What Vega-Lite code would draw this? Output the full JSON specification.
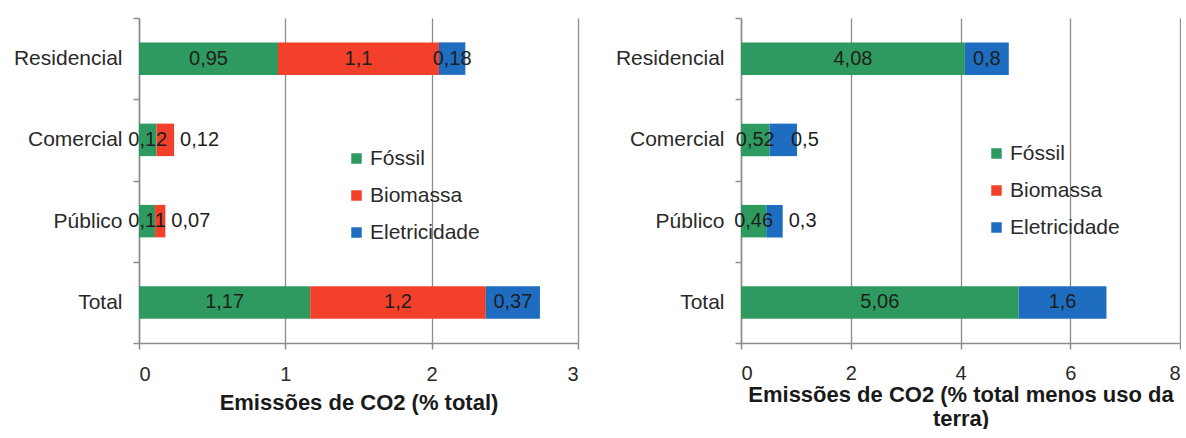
{
  "$schema": "https://vega.github.io/schema/vega-lite/v6.json",
  "padding": {"left": 13, "top": 7, "right": 0, "bottom": 0},
  "background": "white",
  "bounds": "flush",
  "spacing": 163,
  "config": {
    "view": {"stroke": null},
    "font": "Liberation Sans",
    "axis": {
      "labelFont": "Liberation Sans", "labelFontSize": 20, "labelColor": "#2a2a2a",
      "domainColor": "#8c8c8c", "tickColor": "#8c8c8c", "gridColor": "#8c8c8c",
      "domainWidth": 1.5, "tickWidth": 1.5, "gridWidth": 1.3,
      "titleFont": "Liberation Sans", "titleFontWeight": "bold", "titleFontSize": 22, "titleColor": "#1a1a1a"
    },
    "legend": {
      "labelFont": "Liberation Sans", "labelFontSize": 21, "labelColor": "#2a2a2a",
      "symbolType": "square", "symbolSize": 110, "symbolStrokeWidth": 0, "labelOffset": 3,
      "rowPadding": 15, "padding": 0, "title": null, "orient": "none"
    }
  },
  "resolve": {"legend": {"color": "independent"}},
  "hconcat": [
    {
      "width": 439, "height": 325,
      "data": {"values": [
        {"cat": "Residencial", "src": "Fóssil", "value": 0.95},
        {"cat": "Residencial", "src": "Biomassa", "value": 1.1},
        {"cat": "Residencial", "src": "Eletricidade", "value": 0.18},
        {"cat": "Comercial", "src": "Fóssil", "value": 0.12},
        {"cat": "Comercial", "src": "Biomassa", "value": 0.12},
        {"cat": "Público", "src": "Fóssil", "value": 0.11},
        {"cat": "Público", "src": "Biomassa", "value": 0.07},
        {"cat": "Total", "src": "Fóssil", "value": 1.17},
        {"cat": "Total", "src": "Biomassa", "value": 1.2},
        {"cat": "Total", "src": "Eletricidade", "value": 0.37}
      ]},
      "transform": [
        {"calculate": "indexof(['Fóssil','Biomassa','Eletricidade'], datum.src)", "as": "ord"},
        {"stack": "value", "groupby": ["cat"], "sort": [{"field": "ord", "order": "ascending"}], "as": ["x0", "x1"]},
        {"calculate": "(datum.x0 + datum.x1) / 2", "as": "xm"},
        {"calculate": "replace(toString(datum.value), '.', ',')", "as": "lbl"}
      ],
      "encoding": {
        "y": {
          "field": "cat", "type": "nominal", "sort": ["Residencial", "Comercial", "Público", "Total"],
          "scale": {"paddingInner": 0, "paddingOuter": 0},
          "axis": {"title": null, "tickBand": "extent", "tickSize": 6, "labelPadding": 11, "labelFontSize": 21}
        }
      },
      "layer": [
        {
          "mark": {"type": "bar", "height": {"band": 0.4}},
          "encoding": {
            "x": {
              "field": "x0", "type": "quantitative",
              "scale": {"domain": [0, 3], "nice": false},
              "axis": {"values": [0, 1, 2, 3], "format": "d", "grid": true, "title": "Emissões de CO2 (% total)", "tickSize": 6, "labelPadding": 15, "titlePadding": 8}
            },
            "x2": {"field": "x1"},
            "color": {
              "field": "src", "type": "nominal",
              "scale": {"domain": ["Fóssil", "Biomassa", "Eletricidade"], "range": ["#2f9a5f", "#f2402a", "#1e6dc0"]},
              "legend": {"orient": "none", "legendX": 207, "legendY": 130}
            }
          }
        },
        {
          "transform": [{"filter": "!(datum.src == 'Biomassa' && datum.value < 0.15)"}],
          "mark": {"type": "text", "fontSize": 20, "color": "#1e1e1e"},
          "encoding": {"x": {"field": "xm", "type": "quantitative"}, "text": {"field": "lbl"}}
        },
        {
          "transform": [{"filter": "datum.src == 'Biomassa' && datum.value < 0.15"}],
          "mark": {"type": "text", "fontSize": 20, "color": "#1e1e1e", "align": "left", "dx": 6},
          "encoding": {"x": {"field": "x1", "type": "quantitative"}, "text": {"field": "lbl"}}
        }
      ]
    },
    {
      "width": 439, "height": 325,
      "data": {"values": [
        {"cat": "Residencial", "src": "Fóssil", "value": 4.08},
        {"cat": "Residencial", "src": "Eletricidade", "value": 0.8},
        {"cat": "Comercial", "src": "Fóssil", "value": 0.52},
        {"cat": "Comercial", "src": "Eletricidade", "value": 0.5},
        {"cat": "Público", "src": "Fóssil", "value": 0.46},
        {"cat": "Público", "src": "Eletricidade", "value": 0.3},
        {"cat": "Total", "src": "Fóssil", "value": 5.06},
        {"cat": "Total", "src": "Eletricidade", "value": 1.6}
      ]},
      "transform": [
        {"calculate": "indexof(['Fóssil','Biomassa','Eletricidade'], datum.src)", "as": "ord"},
        {"stack": "value", "groupby": ["cat"], "sort": [{"field": "ord", "order": "ascending"}], "as": ["x0", "x1"]},
        {"calculate": "(datum.x0 + datum.x1) / 2", "as": "xm"},
        {"calculate": "replace(toString(datum.value), '.', ',')", "as": "lbl"}
      ],
      "encoding": {
        "y": {
          "field": "cat", "type": "nominal", "sort": ["Residencial", "Comercial", "Público", "Total"],
          "scale": {"paddingInner": 0, "paddingOuter": 0},
          "axis": {"title": null, "tickBand": "extent", "tickSize": 6, "labelPadding": 11, "labelFontSize": 21}
        }
      },
      "layer": [
        {
          "mark": {"type": "bar", "height": {"band": 0.4}},
          "encoding": {
            "x": {
              "field": "x0", "type": "quantitative",
              "scale": {"domain": [0, 8], "nice": false},
              "axis": {"values": [0, 2, 4, 6, 8], "format": "d", "grid": true, "title": ["Emissões de CO2 (% total menos uso da", "terra)"], "titleLineHeight": 24, "tickSize": 6, "labelPadding": 14, "titlePadding": 1}
            },
            "x2": {"field": "x1"},
            "color": {
              "field": "src", "type": "nominal",
              "scale": {"domain": ["Fóssil", "Biomassa", "Eletricidade"], "range": ["#2f9a5f", "#f2402a", "#1e6dc0"]},
              "legend": {"orient": "none", "legendX": 245, "legendY": 125}
            }
          }
        },
        {
          "transform": [{"filter": "!(datum.src == 'Eletricidade' && datum.value <= 0.5)"}],
          "mark": {"type": "text", "fontSize": 20, "color": "#1e1e1e"},
          "encoding": {"x": {"field": "xm", "type": "quantitative"}, "text": {"field": "lbl"}}
        },
        {
          "transform": [{"filter": "datum.src == 'Eletricidade' && datum.value < 0.4"}],
          "mark": {"type": "text", "fontSize": 20, "color": "#1e1e1e", "align": "left", "dx": 6},
          "encoding": {"x": {"field": "x1", "type": "quantitative"}, "text": {"field": "lbl"}}
        },
        {
          "transform": [{"filter": "datum.src == 'Eletricidade' && datum.value >= 0.4 && datum.value <= 0.5"}],
          "mark": {"type": "text", "fontSize": 20, "color": "#1e1e1e", "align": "left", "dx": -6},
          "encoding": {"x": {"field": "x1", "type": "quantitative"}, "text": {"field": "lbl"}}
        }
      ]
    }
  ]
}
